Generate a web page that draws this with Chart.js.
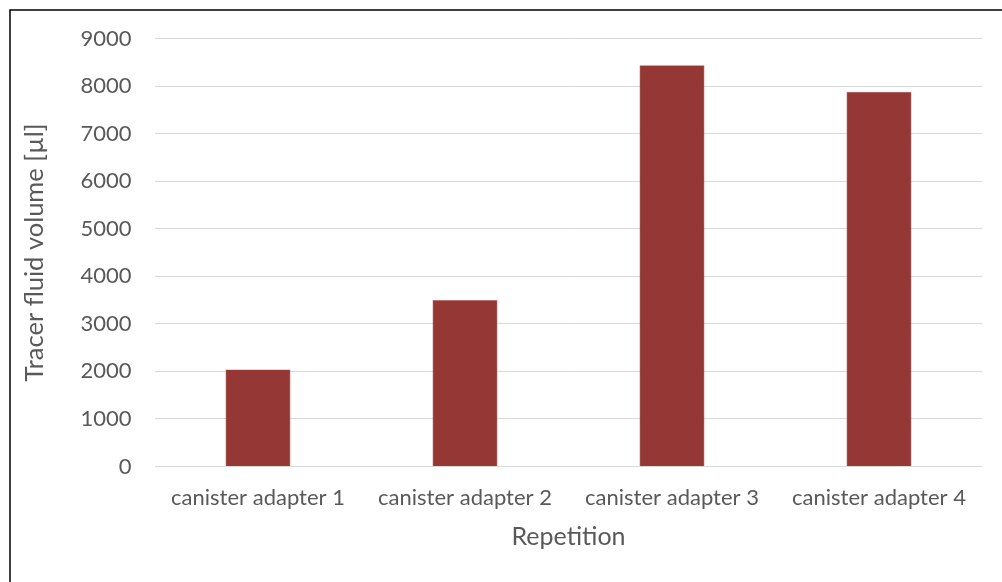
<!DOCTYPE html>
<html>
<head>
<meta charset="utf-8">
<script src="https://cdn.jsdelivr.net/npm/chart.js@4/dist/chart.umd.min.js"></script>
<style>
  html, body { margin: 0; padding: 0; background: #ffffff; }
  #wrap { position: relative; width: 1002px; height: 582px; }
  canvas { display: block; }
</style>
</head>
<body>
<div id="wrap"><canvas id="c" width="1002" height="582"></canvas></div>
<script>
// Tracer fluid volume per canister adapter
const categories = ['canister adapter 1', 'canister adapter 2', 'canister adapter 3', 'canister adapter 4'];
const volumes = [2040, 3500, 8440, 7880];
const yTicks = { min: 0, max: 9000, step: 1000 };

const textColor = '#595959';
const fontFamily = 'Lato, "Open Sans", sans-serif';

// Thin frame along the top and left edges
const framePlugin = {
  id: 'frame',
  afterDraw(chart) {
    const ctx = chart.ctx;
    ctx.save();
    ctx.strokeStyle = '#000000';
    ctx.lineWidth = 1.5;
    ctx.beginPath();
    ctx.moveTo(10, chart.height);
    ctx.lineTo(10, 10);
    ctx.lineTo(chart.width, 10);
    ctx.stroke();
    ctx.restore();
  }
};

new Chart(document.getElementById('c'), {
  type: 'bar',
  data: {
    labels: categories,
    datasets: [{
      data: volumes,
      backgroundColor: '#953735',
      borderColor: '#b4605e',
      borderWidth: 0.6,
      categoryPercentage: 1.0,
      barPercentage: 0.314
    }]
  },
  options: {
    responsive: false,
    animation: false,
    events: [],
    layout: { padding: { left: 0, right: 19.5, top: 38.5, bottom: 0 } },
    plugins: {
      legend: { display: false },
      tooltip: { enabled: false }
    },
    scales: {
      x: {
        grid: { display: false, drawTicks: false },
        border: { display: false },
        ticks: {
          color: textColor,
          font: { family: fontFamily, size: 22 },
          padding: 18,
          maxRotation: 0,
          autoSkip: false
        },
        title: {
          display: true,
          text: 'Repetition',
          color: textColor,
          font: { family: fontFamily, size: 25 },
          padding: { top: 10, bottom: 30 }
        },
        afterFit(scale) { scale.height = 115.5; }
      },
      y: {
        min: yTicks.min,
        max: yTicks.max,
        grid: { color: '#d9d9d9', lineWidth: 1, drawTicks: false },
        border: { display: false },
        ticks: {
          stepSize: yTicks.step,
          color: textColor,
          font: { family: fontFamily, size: 22 },
          padding: 23,
          callback: (v) => String(v)
        },
        title: {
          display: true,
          text: 'Tracer fluid volume [µl]',
          color: textColor,
          font: { family: fontFamily, size: 25.5 },
          padding: { top: 19, bottom: 0 }
        },
        afterFit(scale) { scale.width = 154.5; }
      }
    }
  },
  plugins: [framePlugin]
});
</script>
</body>
</html>
